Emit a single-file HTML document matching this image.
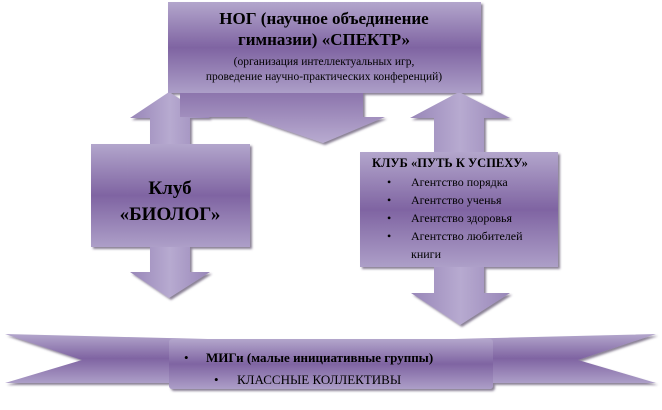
<!DOCTYPE html>
<html><head><meta charset="utf-8"><style>
html,body{margin:0;padding:0;background:#fff;}
svg{display:block;}
svg text{font-family:"Liberation Serif","Times New Roman",Times,"DejaVu Serif",serif !important;}
</style></head><body>
<svg width="662" height="410" viewBox="0 0 662 410">
<defs>
<linearGradient id="g" x1="0" y1="0" x2="0" y2="1">
<stop offset="0" stop-color="#b3a6cc"/><stop offset="0.5" stop-color="#7f64a2"/><stop offset="1" stop-color="#ad9fc8"/>
</linearGradient>
<linearGradient id="gh" x1="0" y1="0" x2="0" y2="1">
<stop offset="0" stop-color="#8a72ab"/><stop offset="1" stop-color="#b8abd0"/>
</linearGradient>
<linearGradient id="gv" x1="0" y1="0" x2="1" y2="0">
<stop offset="0" stop-color="#9886b8"/><stop offset="0.5" stop-color="#b7aad0"/><stop offset="1" stop-color="#9886b8"/>
</linearGradient>
<filter id="s" x="-10%" y="-10%" width="130%" height="130%"><feDropShadow dx="2" dy="2" stdDeviation="1" flood-color="#3a2a50" flood-opacity="0.6"/></filter>
</defs>
<g filter="url(#s)">
<polygon points="169,92 210,118 190,118 190,146 150,146 150,118 130,118" fill="url(#gv)"/>
<polygon points="150,245 190,245 190,272 210,272 169,298 130,272 150,272" fill="url(#gv)"/>
<polygon points="459,92 510,118 484,118 484,154 434,154 434,118 410,118" fill="url(#gv)"/>
<polygon points="434,265 484,265 484,293 510,293 460,325 411,293 434,293" fill="url(#gv)"/>
<polygon points="180,90 363,90 363,117 385,117 323,143 247,117 180,117" fill="url(#gh)"/>
<rect x="168" y="2" width="313" height="91" fill="url(#g)"/>
<rect x="91" y="144" width="159" height="103" fill="url(#g)"/>
<rect x="360" y="152" width="198" height="115" fill="url(#g)"/>
<polygon points="5,334 248,340 248,383 5,383 82,360" fill="url(#g)"/>
<polygon points="656,334 413,340 413,383 656,383 578,360" fill="url(#g)"/>
<rect x="169" y="339" width="324" height="50" rx="3" fill="url(#g)"/>
</g>
<g fill="#000">
<text x="324" y="24" font-size="17" font-weight="bold" text-anchor="middle">НОГ (научное объединение</text>
<text x="324" y="45" font-size="17" font-weight="bold" text-anchor="middle">гимназии) «СПЕКТР»</text>
<text x="324" y="65" font-size="11.5" text-anchor="middle">(организация интеллектуальных игр,</text>
<text x="324" y="80" font-size="11.5" text-anchor="middle">проведение научно-практических конференций)</text>
<text x="170" y="194" font-size="19" font-weight="bold" text-anchor="middle">Клуб</text>
<text x="170" y="220" font-size="19" font-weight="bold" text-anchor="middle">«БИОЛОГ»</text>
<text x="372" y="167" font-size="12.5" font-weight="bold">КЛУБ «ПУТЬ К УСПЕХУ»</text>
<g font-size="12">
<text x="387" y="186">•</text><text x="411" y="186">Агентство порядка</text>
<text x="387" y="204">•</text><text x="411" y="204">Агентство ученья</text>
<text x="387" y="222">•</text><text x="411" y="222">Агентство здоровья</text>
<text x="387" y="240">•</text><text x="411" y="240">Агентство любителей</text>
<text x="411" y="258">книги</text>
</g>
<text x="184" y="362" font-size="13">•</text>
<text x="206" y="362" font-size="13" font-weight="bold">МИГи (малые инициативные группы)</text>
<text x="214" y="384" font-size="13">•</text>
<text x="237" y="384" font-size="13">КЛАССНЫЕ КОЛЛЕКТИВЫ</text>
</g>
</svg>
</body></html>
